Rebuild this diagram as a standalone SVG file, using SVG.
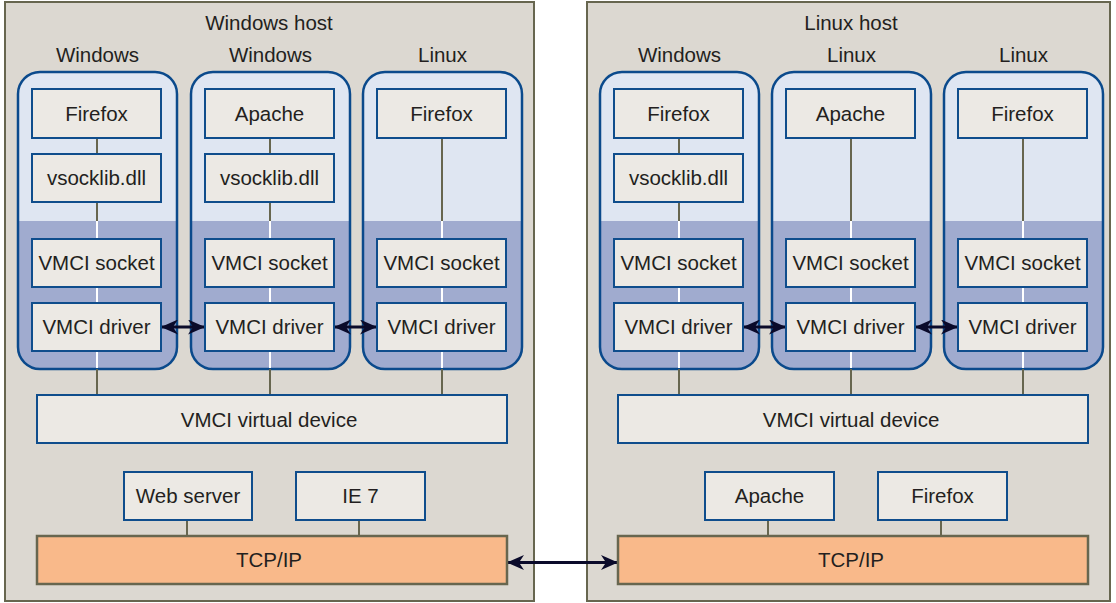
<svg xmlns="http://www.w3.org/2000/svg" width="1116" height="603" viewBox="0 0 1116 603">
<defs>
<style>
text{font-family:"Liberation Sans",Arial,Helvetica,sans-serif;font-size:20.5px;fill:#231f20;text-anchor:middle}
.host{fill:#dcd8d1;stroke:#67664f;stroke-width:2}
.vmtop{fill:#dfe6f2}
.vmbot{fill:#a0abcf}
.vmline{fill:none;stroke:#0b4a8c;stroke-width:2.5}
.box{fill:#ece9e4;stroke:#0f4d8c;stroke-width:2}
.tcp{fill:#f9b98a;stroke:#67664f;stroke-width:2.5}
.g{stroke:#67664f;stroke-width:2;fill:none}
.w{stroke:#ffffff;stroke-width:2;fill:none}
.arr{stroke:#0a0a2a;stroke-width:3;fill:none;marker-start:url(#ah);marker-end:url(#ah)}
</style>
<marker id="ah" viewBox="0 0 17 15" refX="16" refY="7.5" markerWidth="17" markerHeight="15" markerUnits="userSpaceOnUse" orient="auto-start-reverse">
<path d="M0,0 L17,7.5 L0,15 L5,7.5 z" fill="#0a0a2a"/>
</marker>
</defs>
<rect width="1116" height="603" fill="#ffffff"/>

<g id="windows-host">
<rect class="host" x="5" y="2" width="529" height="599"/>
<text x="269" y="30">Windows host</text>
</g>
<g id="linux-host">
<rect class="host" x="587" y="2" width="523" height="599"/>
<text x="851" y="30">Linux host</text>
</g>

<g id="vm1">
<text x="97.5" y="62">Windows</text>
<rect class="vmtop" x="18" y="72" width="159" height="297" rx="22"/>
<path class="vmbot" d="M18,221 H177 V347 A22,22 0 0 1 155,369 H40 A22,22 0 0 1 18,347 Z"/>
<rect class="vmline" x="18" y="72" width="159" height="297" rx="22"/>
</g>
<g id="vm2">
<text x="270.5" y="62">Windows</text>
<rect class="vmtop" x="191" y="72" width="159" height="297" rx="22"/>
<path class="vmbot" d="M191,221 H350 V347 A22,22 0 0 1 328,369 H213 A22,22 0 0 1 191,347 Z"/>
<rect class="vmline" x="191" y="72" width="159" height="297" rx="22"/>
</g>
<g id="vm3">
<text x="442.5" y="62">Linux</text>
<rect class="vmtop" x="363" y="72" width="159" height="297" rx="22"/>
<path class="vmbot" d="M363,221 H522 V347 A22,22 0 0 1 500,369 H385 A22,22 0 0 1 363,347 Z"/>
<rect class="vmline" x="363" y="72" width="159" height="297" rx="22"/>
</g>
<g id="vm4">
<text x="679.5" y="62">Windows</text>
<rect class="vmtop" x="600" y="72" width="159" height="297" rx="22"/>
<path class="vmbot" d="M600,221 H759 V347 A22,22 0 0 1 737,369 H622 A22,22 0 0 1 600,347 Z"/>
<rect class="vmline" x="600" y="72" width="159" height="297" rx="22"/>
</g>
<g id="vm5">
<text x="851.5" y="62">Linux</text>
<rect class="vmtop" x="772" y="72" width="159" height="297" rx="22"/>
<path class="vmbot" d="M772,221 H931 V347 A22,22 0 0 1 909,369 H794 A22,22 0 0 1 772,347 Z"/>
<rect class="vmline" x="772" y="72" width="159" height="297" rx="22"/>
</g>
<g id="vm6">
<text x="1023.5" y="62">Linux</text>
<rect class="vmtop" x="944" y="72" width="159" height="297" rx="22"/>
<path class="vmbot" d="M944,221 H1103 V347 A22,22 0 0 1 1081,369 H966 A22,22 0 0 1 944,347 Z"/>
<rect class="vmline" x="944" y="72" width="159" height="297" rx="22"/>
</g>

<g id="connectors">
<path class="g" d="M97,138 V154 M97,202 V221 M97,369 V395"/>
<path class="w" d="M97,221 V239 M97,287 V303 M97,351 V368"/>
<path class="g" d="M270,138 V154 M270,202 V221 M270,369 V395"/>
<path class="w" d="M270,221 V239 M270,287 V303 M270,351 V368"/>
<path class="g" d="M442,138 V221 M442,369 V395"/>
<path class="w" d="M442,221 V239 M442,287 V303 M442,351 V368"/>
<path class="g" d="M679,138 V154 M679,202 V221 M679,369 V395"/>
<path class="w" d="M679,221 V239 M679,287 V303 M679,351 V368"/>
<path class="g" d="M851,138 V221 M851,369 V395"/>
<path class="w" d="M851,221 V239 M851,287 V303 M851,351 V368"/>
<path class="g" d="M1023,138 V221 M1023,369 V395"/>
<path class="w" d="M1023,221 V239 M1023,287 V303 M1023,351 V368"/>
<path class="g" d="M187,520 V536 M359,520 V536 M768,520 V536 M941,520 V536"/>
<line class="arr" x1="162" y1="327" x2="204" y2="327"/>
<line class="arr" x1="335" y1="327" x2="376" y2="327"/>
<line class="arr" x1="744" y1="327" x2="785" y2="327"/>
<line class="arr" x1="916" y1="327" x2="957" y2="327"/>
<line class="arr" x1="508" y1="562.5" x2="617" y2="562.5"/>
</g>

<g id="vm1-firefox"><rect class="box" x="32" y="89" width="129" height="49"/><text x="96.5" y="121">Firefox</text></g>
<g id="vm1-vsocklib"><rect class="box" x="32" y="154" width="129" height="48"/><text x="96.5" y="185">vsocklib.dll</text></g>
<g id="vm1-socket"><rect class="box" x="32" y="239" width="129" height="48"/><text x="96.5" y="270">VMCI socket</text></g>
<g id="vm1-driver"><rect class="box" x="32" y="303" width="129" height="48"/><text x="96.5" y="334">VMCI driver</text></g>

<g id="vm2-apache"><rect class="box" x="205" y="89" width="129" height="49"/><text x="269.5" y="121">Apache</text></g>
<g id="vm2-vsocklib"><rect class="box" x="205" y="154" width="129" height="48"/><text x="269.5" y="185">vsocklib.dll</text></g>
<g id="vm2-socket"><rect class="box" x="205" y="239" width="129" height="48"/><text x="269.5" y="270">VMCI socket</text></g>
<g id="vm2-driver"><rect class="box" x="205" y="303" width="129" height="48"/><text x="269.5" y="334">VMCI driver</text></g>

<g id="vm3-firefox"><rect class="box" x="377" y="89" width="129" height="49"/><text x="441.5" y="121">Firefox</text></g>
<g id="vm3-socket"><rect class="box" x="377" y="239" width="129" height="48"/><text x="441.5" y="270">VMCI socket</text></g>
<g id="vm3-driver"><rect class="box" x="377" y="303" width="129" height="48"/><text x="441.5" y="334">VMCI driver</text></g>

<g id="win-vmci-device"><rect class="box" x="37" y="395" width="470" height="48"/><text x="269" y="427">VMCI virtual device</text></g>
<g id="win-webserver"><rect class="box" x="124" y="472" width="128" height="48"/><text x="188" y="503">Web server</text></g>
<g id="win-ie7"><rect class="box" x="296" y="472" width="129" height="48"/><text x="360.5" y="503">IE 7</text></g>
<g id="win-tcpip"><rect class="tcp" x="37" y="536" width="470" height="48"/><text x="269" y="567">TCP/IP</text></g>

<g id="vm4-firefox"><rect class="box" x="614" y="89" width="129" height="49"/><text x="678.5" y="121">Firefox</text></g>
<g id="vm4-vsocklib"><rect class="box" x="614" y="154" width="129" height="48"/><text x="678.5" y="185">vsocklib.dll</text></g>
<g id="vm4-socket"><rect class="box" x="614" y="239" width="129" height="48"/><text x="678.5" y="270">VMCI socket</text></g>
<g id="vm4-driver"><rect class="box" x="614" y="303" width="129" height="48"/><text x="678.5" y="334">VMCI driver</text></g>

<g id="vm5-apache"><rect class="box" x="786" y="89" width="129" height="49"/><text x="850.5" y="121">Apache</text></g>
<g id="vm5-socket"><rect class="box" x="786" y="239" width="129" height="48"/><text x="850.5" y="270">VMCI socket</text></g>
<g id="vm5-driver"><rect class="box" x="786" y="303" width="129" height="48"/><text x="850.5" y="334">VMCI driver</text></g>

<g id="vm6-firefox"><rect class="box" x="958" y="89" width="129" height="49"/><text x="1022.5" y="121">Firefox</text></g>
<g id="vm6-socket"><rect class="box" x="958" y="239" width="129" height="48"/><text x="1022.5" y="270">VMCI socket</text></g>
<g id="vm6-driver"><rect class="box" x="958" y="303" width="129" height="48"/><text x="1022.5" y="334">VMCI driver</text></g>

<g id="lin-vmci-device"><rect class="box" x="618" y="395" width="470" height="48"/><text x="851" y="427">VMCI virtual device</text></g>
<g id="lin-apache"><rect class="box" x="705" y="472" width="129" height="48"/><text x="769.5" y="503">Apache</text></g>
<g id="lin-firefox"><rect class="box" x="878" y="472" width="129" height="48"/><text x="942.5" y="503">Firefox</text></g>
<g id="lin-tcpip"><rect class="tcp" x="618" y="536" width="470" height="48"/><text x="851" y="567">TCP/IP</text></g>
</svg>
